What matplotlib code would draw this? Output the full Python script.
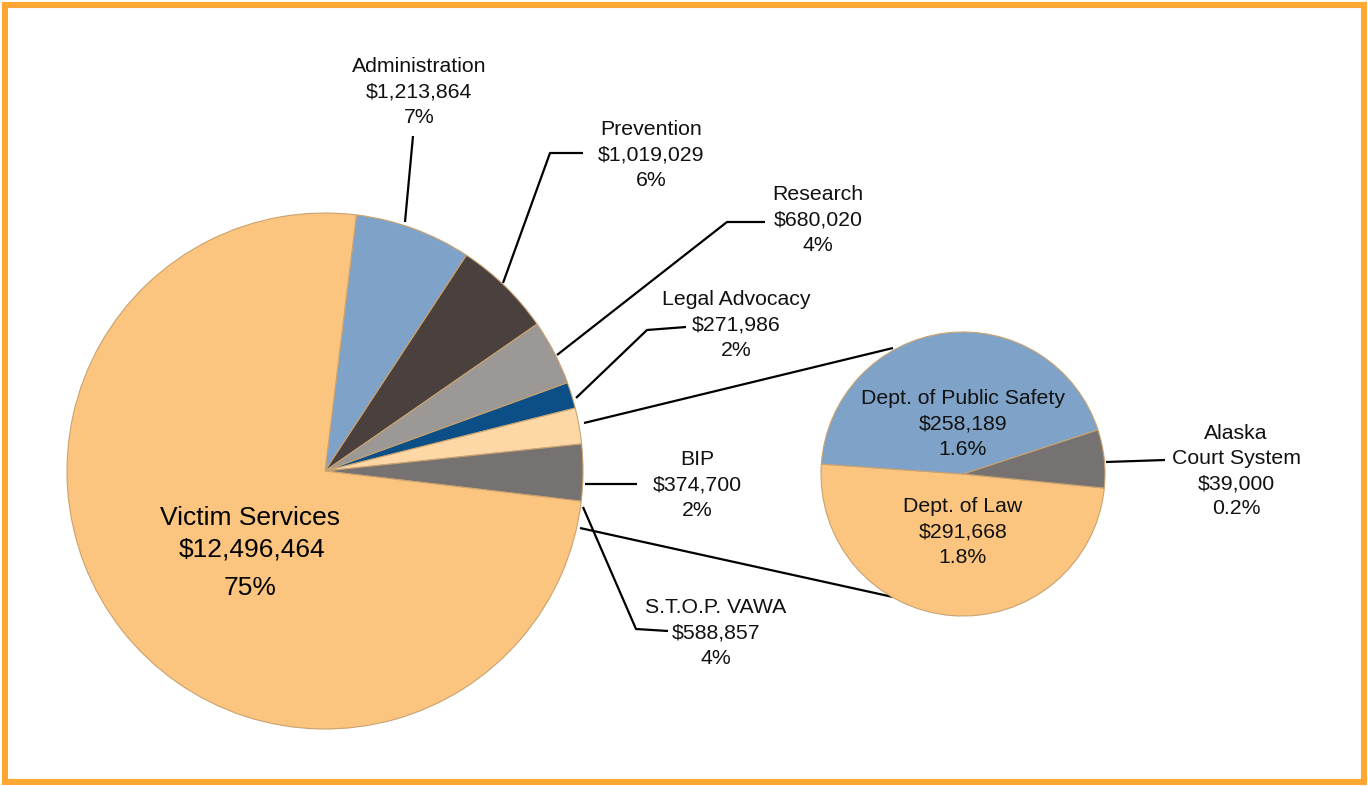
import numpy as np
import matplotlib
matplotlib.use("Agg")
import matplotlib.pyplot as plt
from matplotlib.patches import Rectangle

plt.rcParams['font.family'] = ['Liberation Sans', 'DejaVu Sans']

# ---------------- data ----------------
main_labels = ["Administration", "Prevention", "Research", "Legal Advocacy",
               "BIP", "S.T.O.P. VAWA", "Victim Services"]
main_values = [1213864, 1019029, 680020, 271986, 374700, 588857, 12496464]
main_pcts = ["7%", "6%", "4%", "2%", "2%", "4%", "75%"]
main_colors = ["#7FA3C8", "#4A403E", "#9B9895", "#0B4F86",
               "#FDD8A6", "#767271", "#FCC57F"]

sub_labels = ["Dept. of Law", "Alaska\nCourt System", "Dept. of Public Safety"]
sub_values = [291668, 39000, 258189]
sub_pcts = ["1.8%", "0.2%", "1.6%"]
sub_colors = ["#FCC57F", "#767271", "#7FA3C8"]

W, H = 1368, 786
fig = plt.figure(figsize=(W / 100, H / 100), dpi=100)
ax = fig.add_axes([0, 0, 1, 1])


def P(x, y):
    """image pixel coords -> axes coords"""
    return (x, H - y)


# main pie
mc = P(325, 471)
mr = 258
ax.pie(main_values, colors=main_colors, startangle=83, counterclock=False,
       center=mc, radius=mr, frame=True,
       wedgeprops=dict(edgecolor="#C9A270", linewidth=0.8))

# secondary pie
sc = P(963, 474)
sr = 142
ax.pie(sub_values, colors=sub_colors, startangle=176, counterclock=True,
       center=sc, radius=sr, frame=True,
       wedgeprops=dict(edgecolor="#C9A270", linewidth=0.8))
ax.set_xlim(0, W)
ax.set_ylim(0, H)
ax.set_aspect('equal')
ax.axis('off')

fmt = lambda v: "${:,}".format(v)
fs = 15.3
tk = dict(ha='center', va='center', fontsize=fs, color='#111111', linespacing=1.41)

# outside labels (text centre positions in image px)
label_pos = {
    "Administration": (419, 92),
    "Prevention": (651, 155),
    "Research": (818, 220),
    "Legal Advocacy": (736, 325),
    "BIP": (697, 485),
    "S.T.O.P. VAWA": (716, 633),
}
for lab, val, pct in zip(main_labels, main_values, main_pcts):
    if lab in label_pos:
        x, y = label_pos[lab]
        ax.text(*P(x, y), f"{lab}\n{fmt(val)}\n{pct}", **tk)

# victim services label (large)
vs_i = main_labels.index("Victim Services")
vfs = 19
ax.text(*P(250, 518), main_labels[vs_i], ha='center', va='center', fontsize=vfs)
ax.text(*P(252, 550), fmt(main_values[vs_i]), ha='center', va='center', fontsize=vfs)
ax.text(*P(250, 588), main_pcts[vs_i], ha='center', va='center', fontsize=vfs)

# secondary labels
sub_pos = {
    "Dept. of Law": (963, 532),
    "Dept. of Public Safety": (963, 424),
    "Alaska\nCourt System": (1236, 471),
}
for lab, val, pct in zip(sub_labels, sub_values, sub_pcts):
    x, y = sub_pos[lab]
    ax.text(*P(x, y), f"{lab}\n{fmt(val)}\n{pct}", **tk)

# leader lines
lines = [
    [(405, 222), (413, 136)],
    [(503, 283), (550, 153), (583, 153)],
    [(557, 355), (727, 222), (765, 222)],
    [(576, 398), (647, 330), (686, 327)],
    [(585, 484), (637, 484)],
    [(583, 507), (636, 629), (668, 631)],
    [(1106, 462), (1165, 460)],
    # connectors to secondary pie
    [(584, 423), (893, 348)],
    [(580, 528), (893, 597)],
]
for pts in lines:
    xs = [p[0] for p in pts]
    ys = [H - p[1] for p in pts]
    ax.plot(xs, ys, color='black', lw=1.6, solid_capstyle='butt', zorder=0.5)

# orange frame
fig.patches.append(Rectangle((5 / W, 4 / H), (W - 9) / W, (H - 9) / H,
                             transform=fig.transFigure, fill=False,
                             edgecolor="#FFA733", linewidth=4.4))

fig.savefig("out.png", dpi=100)
